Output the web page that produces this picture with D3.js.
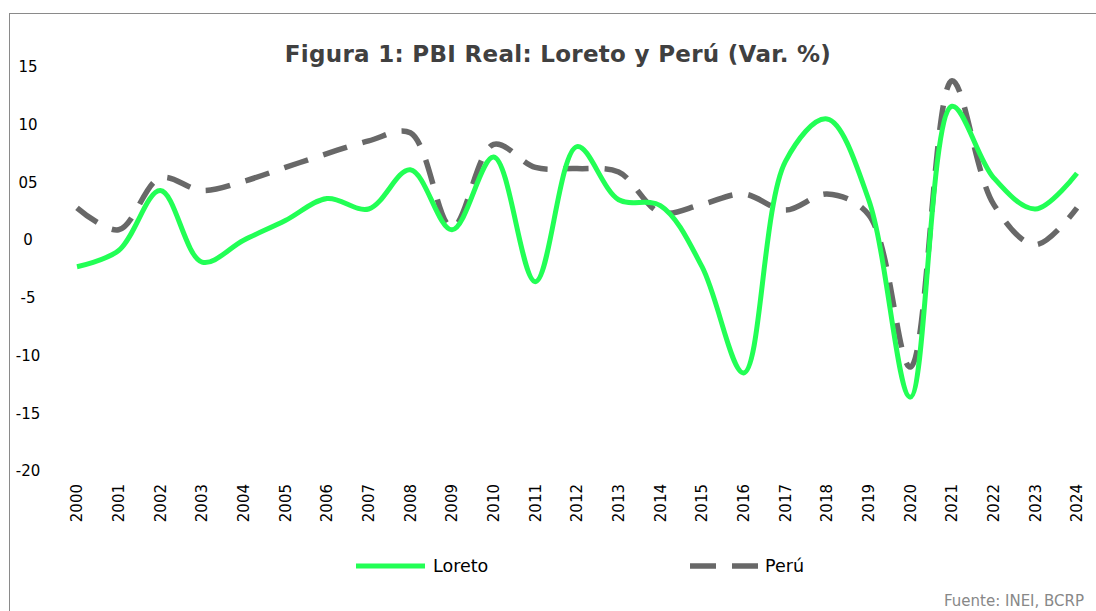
<!DOCTYPE html>
<html>
<head>
<meta charset="utf-8">
<script src="https://cdn.jsdelivr.net/npm/d3@7"></script>
<style>
  html, body { margin: 0; padding: 0; background: #fff; overflow: hidden; }
  svg { display: block; font-family: "DejaVu Sans", sans-serif; }
</style>
</head>
<body>
<div id="chart"></div>
<script>
// DATA ///////////////////////////////////////////////////////////////////////
const years = ["2000","2001","2002","2003","2004","2005","2006","2007","2008","2009",
  "2010","2011","2012","2013","2014","2015","2016","2017","2018","2019",
  "2020","2021","2022","2023","2024"];

const loreto = [-2.3, -0.9, 4.3, -1.9, 0.0, 1.7, 3.6, 2.7, 6.1, 0.9,
  7.2, -3.6, 8.1, 3.5, 3.0, -2.3, -11.5, 6.8, 10.5, 3.5,
  -13.6, 11.6, 5.4, 2.7, 5.8];

const peru = [2.8, 0.9, 5.4, 4.3, 5.1, 6.3, 7.5, 8.6, 9.3, 1.1,
  8.3, 6.3, 6.2, 5.9, 2.4, 3.1, 4.0, 2.6, 4.0, 2.2,
  -11.0, 13.8, 3.1, -0.4, 2.8];

const yTicks = [15, 10, 5, 0, -5, -10, -15, -20];
const yTickLabels = ["15", "10", "05", "0", "-5", "-10", "-15", "-20"];

const seriesNames = ["Loreto", "Perú"];

// LAYOUT /////////////////////////////////////////////////////////////////////
const w = 1096, h = 611;
const green = "#22ff55";
const grey = "#686868";

const svg = d3.select("#chart").append("svg")
  .attr("width", w)
  .attr("height", h);

// outer frame (right and bottom edges fall outside the picture)
svg.append("rect")
  .attr("x", 9.5).attr("y", 13.5)
  .attr("width", w + 20).attr("height", h + 20)
  .attr("fill", "none")
  .attr("stroke", "#8a8a8a")
  .attr("stroke-width", 1);

// title
svg.append("text")
  .attr("x", 558).attr("y", 62)
  .attr("text-anchor", "middle")
  .attr("font-weight", "bold")
  .attr("font-size", "23px")
  .attr("letter-spacing", "0.3px")
  .attr("fill", "#404040")
  .text("Figura 1: PBI Real: Loreto y Perú (Var. %)");

// scales
const x = d3.scalePoint().domain(years).range([77, 1077]);
const y = d3.scaleLinear().domain([-20, 15]).range([471, 67]);

// y labels (no axis line, no grid)
svg.append("g").selectAll("text")
  .data(yTicks)
  .enter().append("text")
  .attr("x", 28)
  .attr("y", d => y(d))
  .attr("dy", "0.35em")
  .attr("text-anchor", "middle")
  .attr("font-size", "15px")
  .attr("fill", "#000")
  .text((d, i) => yTickLabels[i]);

// x labels rotated
svg.append("g").selectAll("text")
  .data(years)
  .enter().append("text")
  .attr("transform", d => "translate(" + x(d) + ",484) rotate(-90)")
  .attr("dy", "0.35em")
  .attr("text-anchor", "end")
  .attr("font-size", "15px")
  .attr("fill", "#000")
  .text(d => d);

// lines (smoothed)
const line = d3.line()
  .x((d, i) => x(years[i]))
  .y(d => y(d))
  .curve(d3.curveCatmullRom.alpha(0.5));

svg.append("path")
  .datum(peru)
  .attr("d", line)
  .attr("fill", "none")
  .attr("stroke", grey)
  .attr("stroke-width", 5.5)
  .attr("stroke-dasharray", "25,16");

svg.append("path")
  .datum(loreto)
  .attr("d", line)
  .attr("fill", "none")
  .attr("stroke", green)
  .attr("stroke-width", 5)
  .attr("stroke-linejoin", "round");

// legend
const legend = svg.append("g");
legend.append("line")
  .attr("x1", 356).attr("x2", 425).attr("y1", 566).attr("y2", 566)
  .attr("stroke", green).attr("stroke-width", 5);
legend.append("text")
  .attr("x", 433).attr("y", 566).attr("dy", "0.35em")
  .attr("font-size", "17.5px").attr("fill", "#000")
  .text(seriesNames[0]);

legend.append("line")
  .attr("x1", 690).attr("x2", 758).attr("y1", 566).attr("y2", 566)
  .attr("stroke", grey).attr("stroke-width", 5.5)
  .attr("stroke-dasharray", "26,16");
legend.append("text")
  .attr("x", 765).attr("y", 566).attr("dy", "0.35em")
  .attr("font-size", "17.5px").attr("fill", "#000")
  .text(seriesNames[1]);

// source note
svg.append("text")
  .attr("x", 944).attr("y", 606)
  .attr("font-size", "15px")
  .attr("fill", "#888")
  .text("Fuente: INEI, BCRP");
</script>
</body>
</html>
